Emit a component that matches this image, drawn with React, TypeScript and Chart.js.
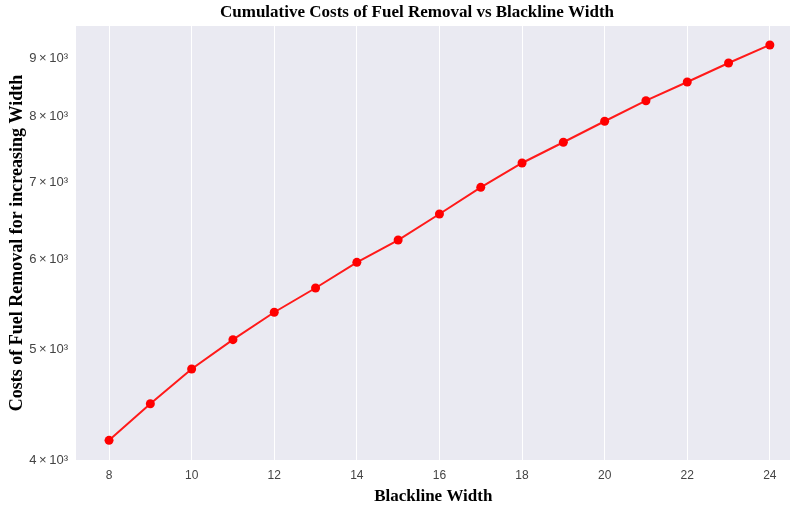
import React, { useEffect, useRef } from "react";
import { Chart, registerables } from "chart.js";

Chart.register(...registerables);

const widths = [8, 9, 10, 11, 12, 13, 14, 15, 16, 17, 18, 19, 20, 21, 22, 23, 24];
const costs = [4162, 4481, 4806, 5099, 5389, 5659, 5960, 6234, 6570, 6933, 7282, 7593, 7922, 8257, 8575, 8910, 9240];
const yTicks = [4000, 5000, 6000, 7000, 8000, 9000];
const xTicks = [8, 10, 12, 14, 16, 18, 20, 22, 24];
const chartTitle = "Cumulative Costs of Fuel Removal vs Blackline Width";

const serif = "'Liberation Serif', 'Times New Roman', serif";
const sans = "'Liberation Sans', Arial, sans-serif";

const bgPlugin = {
  id: "plotBg",
  beforeDraw(chart: any) {
    const { ctx, chartArea } = chart;
    ctx.save();
    ctx.fillStyle = "#EAEAF2";
    ctx.fillRect(chartArea.left, chartArea.top, chartArea.right - chartArea.left, chartArea.bottom - chartArea.top);
    ctx.restore();
  },
  afterDraw(chart: any) {
    const { ctx } = chart;
    ctx.save();
    ctx.fillStyle = "#000";
    ctx.font = `bold 17px ${serif}`;
    ctx.textAlign = "center";
    ctx.textBaseline = "middle";
    ctx.fillText(chartTitle, 417, 13);
    ctx.restore();
  },
};

export default function App() {
  const ref = useRef<HTMLCanvasElement>(null);
  useEffect(() => {
    document.body.style.margin = "0";
    const chart = new Chart(ref.current!, {
      type: "line",
      data: {
        datasets: [
          {
            data: widths.map((w, i) => ({ x: w, y: costs[i] })),
            borderColor: "#FF1A1A",
            backgroundColor: "#FF0000",
            borderWidth: 2,
            pointRadius: 4.5,
            pointBorderWidth: 0,
            pointBackgroundColor: "#FF0000",
          },
        ],
      },
      options: {
        animation: false,
        responsive: false,
        layout: { padding: { left: 0, right: 0, top: 26, bottom: 0 } },
        plugins: {
          legend: { display: false },
          tooltip: { enabled: false },
          title: { display: false },
        },
        scales: {
          x: {
            type: "linear",
            min: 7.2,
            max: 24.5,
            afterBuildTicks: (s: any) => {
              s.ticks = xTicks.map((v) => ({ value: v }));
            },
            afterFit: (s: any) => {
              s.height = 48;
            },
            grid: { color: "#FFFFFF", lineWidth: 1, drawTicks: false },
            border: { display: false },
            ticks: {
              color: "#444",
              padding: 8,
              font: { family: sans, size: 12 },
              callback: (v: any) => String(v),
            },
            title: {
              display: true,
              text: "Blackline Width",
              color: "#000",
              font: { family: serif, size: 17, weight: "bold" },
              padding: { top: 0, bottom: 1 },
            },
          },
          y: {
            type: "logarithmic",
            min: 4000,
            max: 9600,
            afterBuildTicks: (s: any) => {
              s.ticks = yTicks.map((v) => ({ value: v }));
            },
            afterFit: (s: any) => {
              s.width = 76;
            },
            grid: { display: false, drawTicks: false },
            border: { display: false },
            ticks: {
              color: "#444",
              padding: 8,
              font: { family: sans, size: 13 },
              callback: (v: any) => `${Math.round(Number(v) / 1000)}\u2009×\u200910³`,
            },
            title: {
              display: true,
              text: "Costs of Fuel Removal for increasing Width",
              color: "#000",
              font: { family: serif, size: 18, weight: "bold" },
              padding: { top: 7, bottom: 0 },
            },
          },
        },
      },
      plugins: [bgPlugin],
    });
    return () => chart.destroy();
  }, []);
  return (
    <div style={{ width: 790, height: 508, background: "#fff", overflow: "hidden" }}>
      <canvas ref={ref} width={795} height={508} style={{ display: "block" }} />
    </div>
  );
}
